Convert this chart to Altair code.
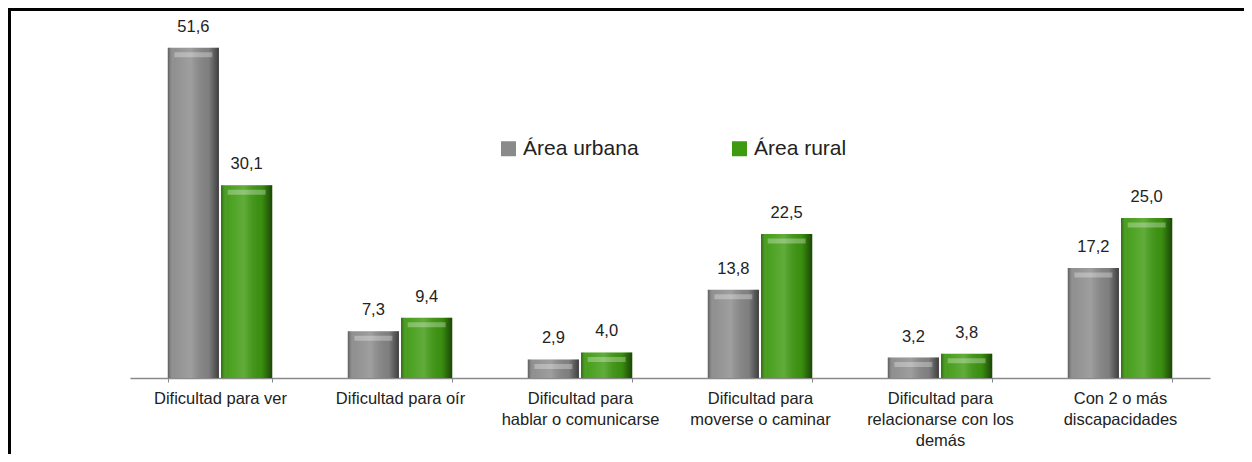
import altair as alt
import pandas as pd

categories = [
    "Dificultad para ver",
    "Dificultad para oír",
    "Dificultad para\nhablar o comunicarse",
    "Dificultad para\nmoverse o caminar",
    "Dificultad para\nrelacionarse con los\ndemás",
    "Con 2 o más\ndiscapacidades",
]
series = ["Área urbana", "Área rural"]
urbana = [51.6, 7.3, 2.9, 13.8, 3.2, 17.2]
rural = [30.1, 9.4, 4.0, 22.5, 3.8, 25.0]
colors = ["#8a8a8a", "#3e9a10"]

rows = []
for i, c in enumerate(categories):
    for s, vals in zip(series, [urbana, rural]):
        v = vals[i]
        rows.append({"cat": c, "serie": s, "valor": v,
                     "etiqueta": f"{v:.1f}".replace(".", ",")})
df = pd.DataFrame(rows)

x = alt.X("cat:N", sort=categories, title=None,
          scale=alt.Scale(paddingInner=0.42, paddingOuter=0.21),
          axis=alt.Axis(labelAngle=0, labelExpr="split(datum.label, '\\n')",
                        labelFontSize=16.5, labelColor="#222222", labelFont="Liberation Sans",
                        labelLineHeight=21, labelPadding=8, labelBaseline="top",
                        labelLimit=300, tickBand="extent", tickSize=4, tickColor="#8a8a8a",
                        domainColor="#8a8a8a", domainWidth=1.5, grid=False))
xo = alt.XOffset("serie:N", sort=series, scale=alt.Scale(paddingInner=0.04))
y = alt.Y("valor:Q", scale=alt.Scale(domain=[0, 55], nice=False), axis=None)

base = alt.Chart(df).encode(x=x, xOffset=xo, y=y)

bars = base.mark_bar().encode(
    color=alt.Color("serie:N", sort=series,
                    scale=alt.Scale(domain=series, range=colors),
                    legend=alt.Legend(title=None, orient="none", legendX=368, legendY=112,
                                      direction="horizontal", symbolType="square",
                                      symbolSize=225, symbolStrokeWidth=0,
                                      labelFontSize=21, labelFont="Liberation Sans",
                                      labelColor="#222222", labelOffset=4,
                                      columnPadding=90))
)

shade = base.mark_bar(
    color=alt.LinearGradient(
        gradient="linear", x1=0, x2=1, y1=0, y2=0,
        stops=[
            alt.GradientStop(offset=0, color="rgba(0,0,0,0.35)"),
            alt.GradientStop(offset=0.12, color="rgba(255,255,255,0.05)"),
            alt.GradientStop(offset=0.45, color="rgba(255,255,255,0.18)"),
            alt.GradientStop(offset=0.8, color="rgba(0,0,0,0.08)"),
            alt.GradientStop(offset=1, color="rgba(0,0,0,0.55)"),
        ],
    )
)

cap = base.mark_tick(color="white", opacity=0.3, thickness=5, size=38, yOffset=7)

labels = base.mark_text(dy=-13, baseline="bottom", fontSize=16.5,
                        font="Liberation Sans", color="#222222").encode(text="etiqueta:N")

frame = alt.Chart(pd.DataFrame({"a": [0]})).mark_rect(
    fill="transparent", stroke="black", strokeWidth=3
).encode(x=alt.value(-120.5), x2=alt.value(1300), y=alt.value(-16.5), y2=alt.value(600))

chart = alt.layer(bars, shade, cap, labels, frame).properties(
    width=1080, height=352,
    background="white",
    autosize=alt.AutoSizeParams(type="none"),
    padding={"left": 122, "top": 18, "right": 34, "bottom": 76},
).configure_view(stroke=None)

chart.save("out.html", embed_options={"renderer": "svg", "actions": False})
